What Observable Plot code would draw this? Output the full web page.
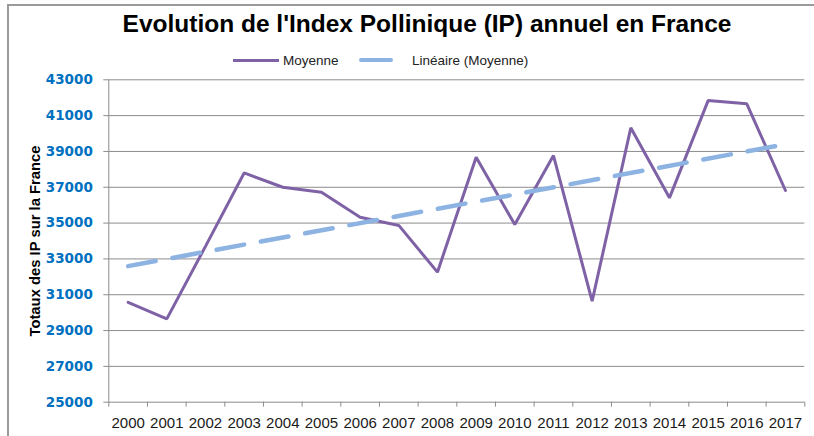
<!DOCTYPE html>
<html><head><meta charset="utf-8">
<script src="https://cdn.jsdelivr.net/npm/d3@7"></script>
<script src="https://cdn.jsdelivr.net/npm/@observablehq/plot@0.6"></script>
<style>
body{margin:0;background:#fff;}
#chart{position:relative;width:814px;height:436px;overflow:hidden;font-family:"Liberation Sans",Arial,sans-serif;background:#fff;}
#frame{position:absolute;left:7px;top:4px;right:-4px;bottom:-4px;border-top:2px solid #9a9a9a;border-left:2px solid #9a9a9a;pointer-events:none;}
#header{position:relative;height:70px;}
#title{position:absolute;left:20px;width:814px;top:12.3px;text-align:center;font-weight:bold;font-size:24.5px;line-height:24.5px;color:#000;white-space:nowrap;}
.sw{position:absolute;}
.lg{position:absolute;font-size:13.5px;line-height:14px;color:#222;top:53.5px;white-space:nowrap;}
#plot{position:relative;}
</style></head>
<body>
<div id="chart">
  <div id="frame"></div>
  <div id="header">
    <div id="title">Evolution de l'Index Pollinique (IP) annuel en France</div>
    <div class="sw" style="left:233px;width:46px;top:58.5px;height:3px;background:#7F62A6"></div>
    <div class="lg" style="left:283px">Moyenne</div>
    <div class="sw" style="left:359px;width:34px;top:58px;height:4px;border-radius:2px;background:#8DB3E2"></div>
    <div class="lg" style="left:412px">Linéaire (Moyenne)</div>
  </div>
  <div id="plot"></div>
</div>
<script>
const years = [2000, 2001, 2002, 2003, 2004, 2005, 2006, 2007, 2008, 2009, 2010, 2011, 2012, 2013, 2014, 2015, 2016, 2017];
const moyenne = [30580, 29650, 33700, 37800, 37000, 36720, 35330, 34870, 32260, 38680, 34920, 38770, 30640, 40320, 36410, 41840, 41660, 36820];
const yTicks = [25000, 27000, 29000, 31000, 33000, 35000, 37000, 39000, 41000, 43000];
const yLabel = "Totaux des IP sur la France";

const data = years.map((year, i) => ({year, value: moyenne[i]}));
const bounds = years.map(y => y - 0.5).concat(years[years.length - 1] + 0.5);
const grey = "#8c8c8c";

const plot = Plot.plot({
  width: 814,
  height: 366,
  marginTop: 9.3,
  marginBottom: 34.3,
  marginLeft: 108.3,
  marginRight: 9.7,
  x: {type: "linear", domain: [bounds[0], bounds[bounds.length - 1]]},
  y: {domain: [yTicks[0], yTicks[yTicks.length - 1]]},
  style: {fontFamily: "'Liberation Sans', Arial, sans-serif", background: "transparent", overflow: "visible"},
  marks: [
    Plot.gridY(yTicks.slice(1), {stroke: grey, strokeOpacity: 1, strokeWidth: 1}),
    Plot.ruleY([yTicks[0]], {stroke: grey}),
    Plot.ruleX([bounds[0]], {stroke: grey}),
    Plot.axisY(yTicks, {tickSize: 5, tickPadding: 11, stroke: grey, fill: "#0070C0", fontWeight: "bold", fontSize: 13.5, fontFamily: "'DejaVu Sans', sans-serif", tickFormat: d => String(d), label: null}),
    Plot.axisX(bounds, {tickSize: 5, stroke: grey, tickFormat: () => "", label: null}),
    Plot.axisX(years, {tickSize: 0, tickPadding: 15, fill: "#1a1a1a", fontSize: 15, fontFamily: "'Liberation Sans', Arial, sans-serif", tickFormat: d => String(d), label: null}),
    Plot.line(data, {x: "year", y: "value", stroke: "#7F62A6", strokeWidth: 3, strokeLinejoin: "miter"}),
    Plot.linearRegressionY(data, {x: "year", y: "value", ci: 0, stroke: "#8DB3E2", strokeWidth: 4.5, strokeDasharray: "28,17", strokeLinecap: "round"}),
    Plot.text([yLabel], {frameAnchor: "left", dx: -74, rotate: -90, textAnchor: "middle", fontWeight: "bold", fontSize: 14.8, fill: "#000"})
  ]
});
document.getElementById("plot").appendChild(plot);
</script>
</body></html>
